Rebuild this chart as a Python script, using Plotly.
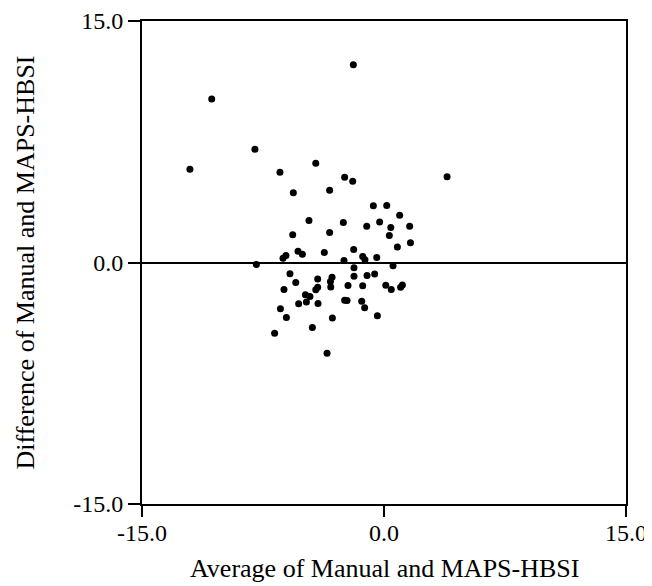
import plotly.graph_objects as go

avg = [-1.90, -10.68, -8.00, -12.03, -6.45, -4.23, -2.44, -1.94, 3.91, -5.62,
       -3.37, -0.66, 0.17, 0.97, -4.65, -2.52, -1.07, -0.27, 0.42, 1.59,
       0.33, -5.66, -3.37, 1.64, 0.83, -1.88, -3.70, -5.33, -5.06, -6.08,
       -6.26, -1.32, -1.18, -0.45, -2.48,
       -7.91, -1.86, -1.86, 0.56, -5.83, -5.47, -4.11, -3.22, -3.32, -3.30,
       -2.23, -1.05, -0.58, -1.32, 0.11, 0.45, 1.03, 1.14, -6.20, -4.87,
       -4.59, -4.23, -4.11, -5.29, -4.81, -4.09, -2.44, -2.29, -1.38, -1.20,
       -0.41, -6.42, -6.05, -3.20, -4.44, -6.78, -3.53]
diff = [12.28, 10.15, 7.03, 5.79, 5.60, 6.16, 5.29, 5.04, 5.33, 4.34,
        4.49, 3.52, 3.54, 2.94, 2.61, 2.48, 2.25, 2.52, 2.17, 2.25,
        1.67, 1.72, 1.86, 1.22, 0.97, 0.81, 0.62, 0.70, 0.52, 0.43,
        0.27, 0.37, 0.17, 0.31, 0.12,
        -0.12, -0.33, -0.85, -0.20, -0.70, -1.24, -1.03, -0.91, -1.18, -1.52,
        -1.43, -0.81, -0.72, -1.45, -1.41, -1.67, -1.53, -1.39, -1.67, -2.01,
        -2.11, -1.70, -1.53, -2.56, -2.46, -2.54, -2.34, -2.36, -2.40, -2.81,
        -3.31, -2.87, -3.41, -3.45, -4.03, -4.40, -5.63]

tick_vals = [-15, 0, 15]
tick_text = ["-15.0", "0.0", "15.0"]
x_title = "Average of Manual and MAPS-HBSI"
y_title = "Difference of Manual and MAPS-HBSI"

fig = go.Figure(go.Scatter(x=avg, y=diff, mode="markers",
                           marker=dict(color="black", size=7),
                           hoverinfo="x+y"))

font = dict(family="Liberation Serif", size=24, color="black")
title_font = dict(family="Liberation Serif", size=26, color="black")
axis_common = dict(range=[-15, 15], tickvals=tick_vals, ticktext=tick_text,
                   ticks="outside", tickwidth=2, tickcolor="black",
                   showline=True, linecolor="black", linewidth=2, mirror=True,
                   showgrid=False, tickfont=font, automargin=False)

fig.update_layout(
    width=652, height=578,
    margin=dict(l=134, r=34, t=13, b=82),
    paper_bgcolor="white", plot_bgcolor="white",
    showlegend=False,
    xaxis=dict(**axis_common, zeroline=False, ticklen=11, ticklabelstandoff=-5),
    yaxis=dict(**axis_common, zeroline=True, zerolinecolor="black", zerolinewidth=2,
               ticklen=12),
    annotations=[
        dict(text=x_title, xref="paper", yref="paper", x=0.5, y=0,
             xanchor="center", yanchor="middle", yshift=-64,
             showarrow=False, font=title_font),
        dict(text=y_title, xref="paper", yref="paper", x=0, y=0.5,
             xanchor="center", yanchor="middle", xshift=-117, textangle=-90,
             showarrow=False, font=title_font),
    ],
)

fig.write_html("out.html")
